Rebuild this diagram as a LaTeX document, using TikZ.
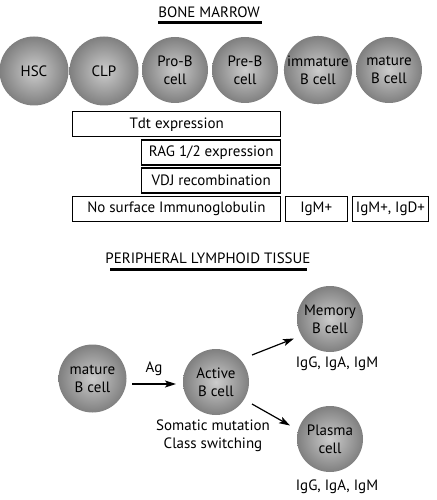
\documentclass[tikz,border=0pt]{standalone}
\usepackage{fontspec}
\setmainfont{PT Sans}
\usetikzlibrary{arrows.meta}
\begin{document}
\begin{tikzpicture}[x=1pt,y=-1pt,
  cell/.style={circle,inner sep=0pt,minimum size=#1,inner color=gray!40,outer color=gray!100,
     align=center,font=\fontsize{15}{18}\selectfont},
  cell/.default=66pt,
  bar/.style={draw,line width=1.1pt,inner sep=0pt,font=\fontsize{15}{16}\selectfont},
  title/.style={font=\fontsize{15}{16}\selectfont},
  uline/.style={line width=3pt},
  arr/.style={line width=1.2pt,-{Stealth[length=11pt,width=7pt,inset=2.5pt]}},
  lab/.style={font=\fontsize{15}{17.5}\selectfont,align=center}]
\useasboundingbox (0,0) rectangle (436,500);
% Bone marrow
\node[title] (bm) at (209,12) {BONE MARROW};
\coordinate (bml) at (158,23); \coordinate (bmr) at (262,23);
\draw[uline] (bml) -- (bmr);
\node[cell=69pt] (hsc) at (34,71) {HSC};
\node[cell=69pt] (clp) at (104,71) {CLP};
\node[cell] (prob) at (175,70) {Pro-B\\cell};
\node[cell] (preb) at (245,70) {Pre-B\\cell};
\node[cell] (imm) at (318,70) {immature\\B cell};
\node[cell] (mat) at (389,70) {mature\\B cell};
% bars
\node[bar,minimum width=208pt,minimum height=25pt] (tdt) at (176.7,124.2) {Tdt expression};
\node[bar,minimum width=139pt,minimum height=25pt] (rag) at (211.2,152.5) {RAG 1/2 expression};
\node[bar,minimum width=139pt,minimum height=25pt] (vdj) at (211.2,180.5) {VDJ recombination};
\node[bar,minimum width=207.5pt,minimum height=25pt] (nos) at (176.4,209.2) {No surface Immunoglobulin};
\node[bar,minimum width=62.3pt,minimum height=25pt] (igm) at (316.2,209.2) {IgM+};
\node[bar,minimum width=75.6pt,minimum height=25pt] (igmd) at (390.5,209.2) {IgM+, IgD+};
% Peripheral
\node[title] (pl) at (208,258) {PERIPHERAL LYMPHOID TISSUE};
\coordinate (pll) at (110,269.5); \coordinate (plr) at (307,269.5);
\draw[uline] (pll) -- (plr);
\node[cell=68pt] (mb) at (92.5,378.5) {mature\\B cell};
\node[cell] (act) at (216,382) {Active\\B cell};
\node[cell] (mem) at (330,319) {Memory\\B cell};
\node[cell] (pla) at (330,439) {Plasma\\cell};
\coordinate (a1) at (132,384); \coordinate (a2) at (176,384);
\draw[arr] (a1) -- node[lab,above=4pt] (ag) {Ag} (a2);
\coordinate (m1) at (252,355); \coordinate (m2) at (294,338.5);
\draw[arr] (m1) -- (m2);
\coordinate (p1) at (252,404); \coordinate (p2) at (290,425.5);
\draw[arr] (p1) -- (p2);
\node[lab] (som) at (213,435.5) {Somatic mutation\\Class switching};
\node[lab] (ig1) at (337,363.5) {IgG, IgA, IgM};
\node[lab] (ig2) at (337,487) {IgG, IgA, IgM};
\end{tikzpicture}
\end{document}
